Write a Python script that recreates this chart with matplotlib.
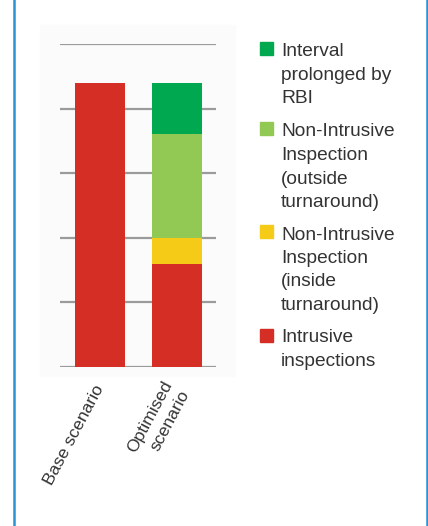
import matplotlib.pyplot as plt
from matplotlib.patches import Rectangle

plt.rcParams['font.family'] = ['Liberation Sans', 'DejaVu Sans']

scenarios = ['Base scenario', 'Optimised\nscenario']
intrusive = [4.4, 1.6]
nii_inside = [0.0, 0.4]
nii_outside = [0.0, 1.6]
rbi_prolonged = [0.0, 0.8]

legend_labels = ['Interval\nprolonged by\nRBI',
                 'Non-Intrusive\nInspection\n(outside\nturnaround)',
                 'Non-Intrusive\nInspection\n(inside\nturnaround)',
                 'Intrusive\ninspections']
legend_colors = ['#00a94f', '#92c955', '#f6cb17', '#d52f25']

W, H = 428, 526
LINE = 24  # pixel pitch of the legend text lines
fig = plt.figure(figsize=(W / 100, H / 100), dpi=100)

# faint panel behind the chart and the blue side rules of the box
fig.patches.append(Rectangle((40 / W, 1 - 376 / H), 195 / W, 351 / H,
                             transform=fig.transFigure, color='#fbfbfb', zorder=-5))
for xpx in (14.5, 426.5):
    fig.add_artist(plt.Line2D([xpx / W, xpx / W], [0, 1], transform=fig.transFigure,
                              color='#2a93d5', lw=1.8))

fig.text(20 / W, 1 + 4 / H, 'Figure 4: Inspection optimisation example',
         color='#1a8ad4', fontsize=13, va='baseline', ha='left')

ax = fig.add_axes([60 / W, 1 - 367 / H, 156 / W, 323 / H])
x = [0, 1]
bw = 0.65
bottom = [0.0, 0.0]
for vals, col in [(intrusive, legend_colors[3]), (nii_inside, legend_colors[2]),
                  (nii_outside, legend_colors[1]), (rbi_prolonged, legend_colors[0])]:
    ax.bar(x, vals, width=bw, bottom=bottom, color=col, zorder=3, linewidth=0)
    bottom = [b + v for b, v in zip(bottom, vals)]

for yv in range(6):
    ax.axhline(yv, color='#9b9b9b', lw=1.6, zorder=1)

ax.set_xlim(-0.52, 1.506)
ax.set_ylim(0, 5)
ax.set_yticks([])
ax.set_xticks(x)
ax.set_xticklabels(scenarios, rotation=62, ha='right', va='center',
                   rotation_mode='anchor', multialignment='right',
                   linespacing=1.4, fontsize=12.6, color='#333333')
ax.tick_params(axis='x', length=0, pad=14)
for s in ax.spines.values():
    s.set_visible(False)
ax.patch.set_alpha(0)

# legend, one coloured square per series with wrapped text beside it
baselines = [55, 135, 238, 342]
for lab, col, ypx in zip(legend_labels, legend_colors, baselines):
    fig.patches.append(Rectangle((260 / W, 1 - ypx / H), 13 / W, 13 / H,
                                 transform=fig.transFigure, color=col))
    last = ypx + LINE * lab.count('\n')
    fig.text(281 / W, 1 - last / H, lab, fontsize=13.8, color='#333333',
             va='baseline', ha='left', linespacing=1.5)

fig.savefig('out.png', dpi=100)
